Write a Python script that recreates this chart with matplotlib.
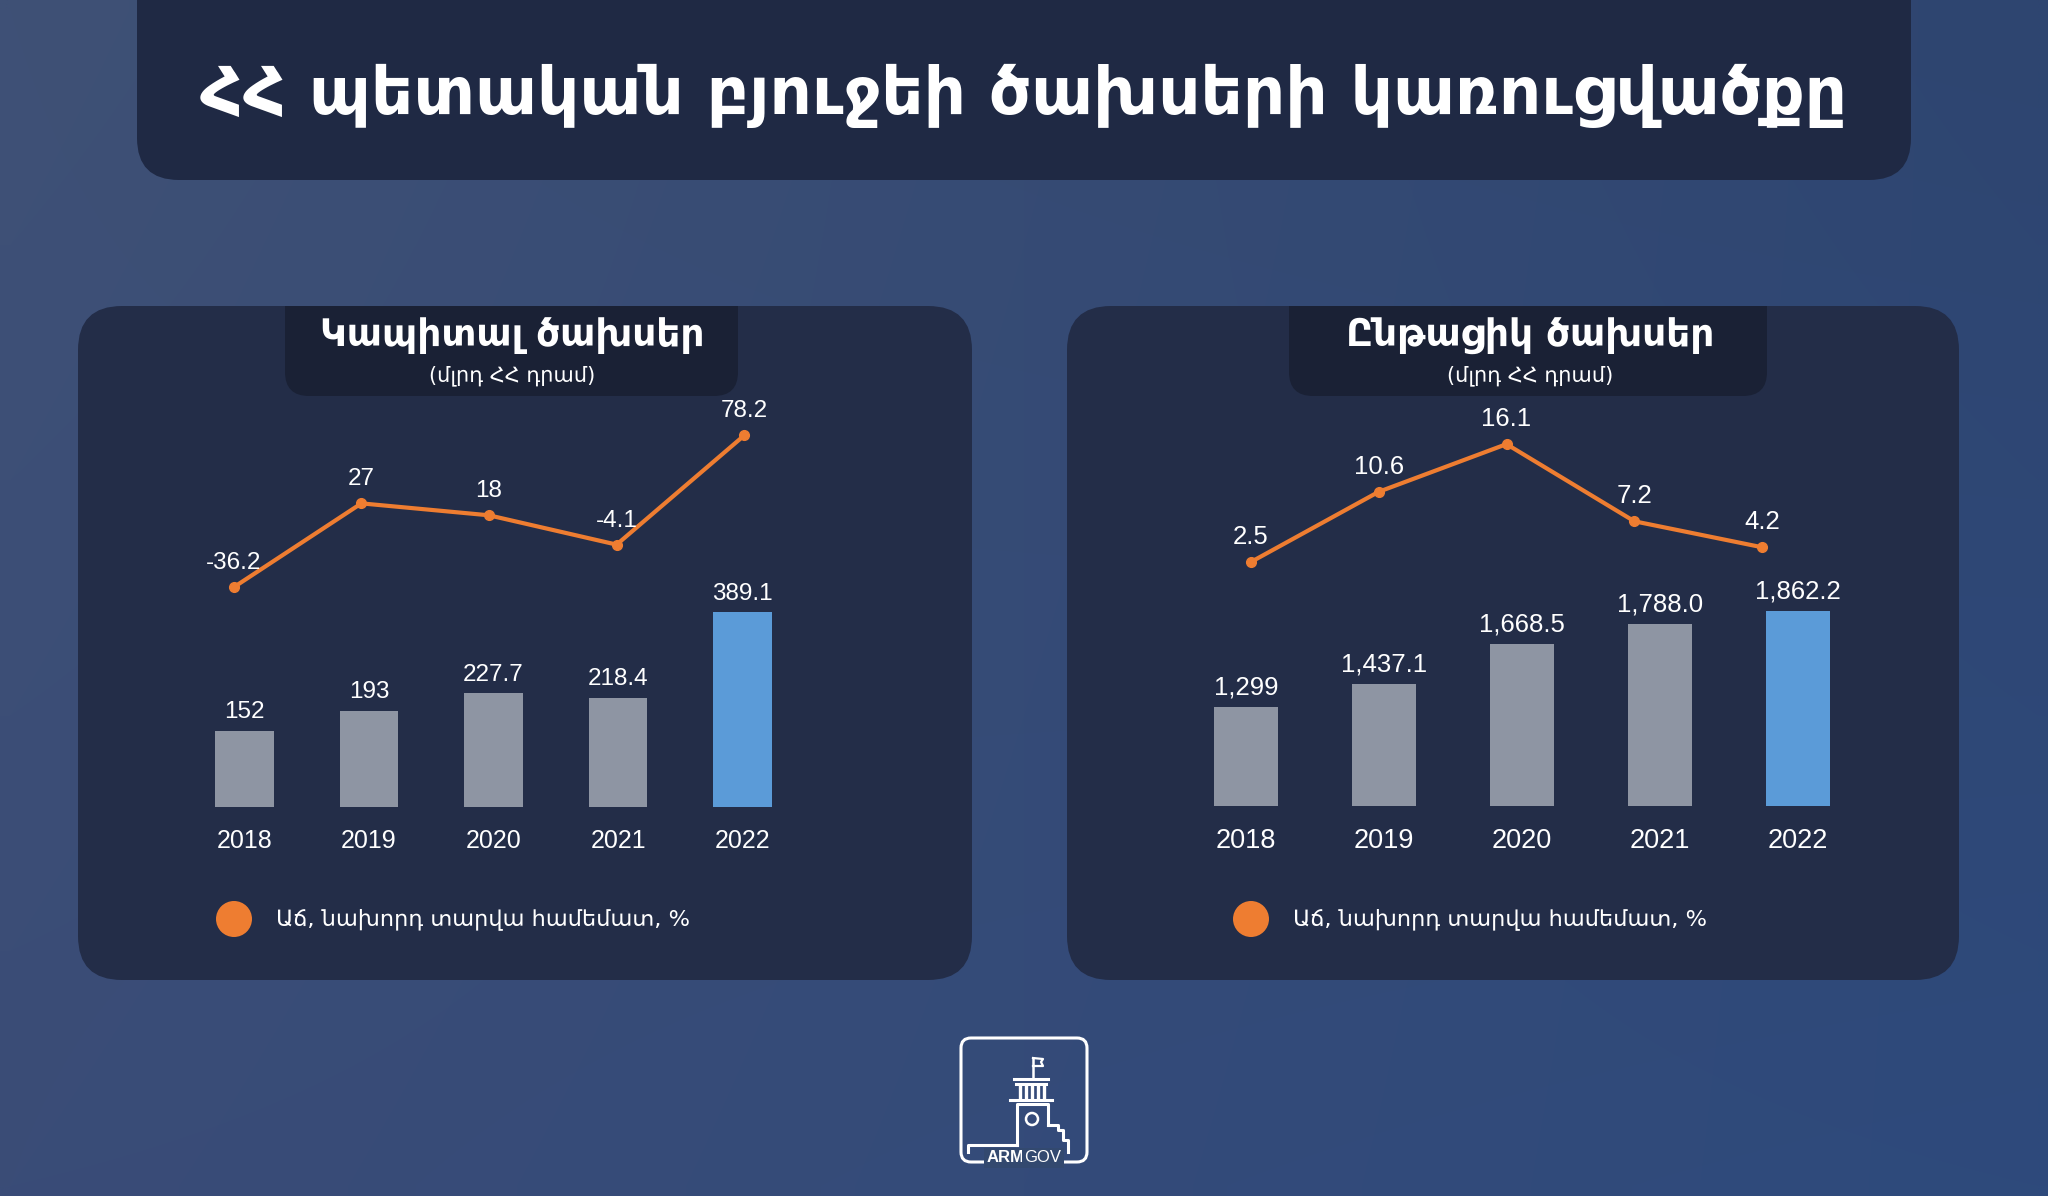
import numpy as np
import matplotlib
matplotlib.use("Agg")
import matplotlib.pyplot as plt
from matplotlib.patches import FancyBboxPatch, Rectangle, Circle
from matplotlib.colors import to_rgb

# ---------------- data ----------------
years = ["2018", "2019", "2020", "2021", "2022"]
capital_values = [152, 193, 227.7, 218.4, 389.1]
capital_labels = ["152", "193", "227.7", "218.4", "389.1"]
capital_growth = [-36.2, 27, 18, -4.1, 78.2]
current_values = [1299, 1437.1, 1668.5, 1788.0, 1862.2]
current_labels = ["1,299", "1,437.1", "1,668.5", "1,788.0", "1,862.2"]
current_growth = [2.5, 10.6, 16.1, 7.2, 4.2]

title = "ՀՀ պետական բյուջեի ծախսերի կառուցվածքը"
panel_titles = ["Կապիտալ ծախսեր", "Ընթացիկ ծախսեր"]
unit_label = "(մլրդ ՀՀ դրամ)"
legend_label = "Աճ, նախորդ տարվա համեմատ, %"

# ---------------- style ----------------
GRAY = "#8e95a3"
BLUE = "#5b9bd8"
ORANGE = "#ee7d31"
PANEL = "#232d48"
HEADER = "#1a2135"
BANNER = "#1f2944"
ARM = ["DejaVu Sans"]
NUM = ["Liberation Sans", "DejaVu Sans"]

W, H = 2048, 1196
fig = plt.figure(figsize=(W / 100, H / 100), dpi=100)
bg = fig.add_axes([0, 0, 1, 1])
bg.axis("off")

# background gradient
tl, tr, bl, br = [np.array(to_rgb(c)) for c in ("#3f5176", "#2e4570", "#3a4c77", "#2e4a7c")]
yy, xx = np.mgrid[0:1:60j, 0:1:100j]
xx = xx[..., None]
yy = yy[..., None]
img = tl * (1 - xx) * (1 - yy) + tr * xx * (1 - yy) + bl * (1 - xx) * yy + br * xx * yy
bg.imshow(img, extent=[0, W, H, 0], aspect="auto", interpolation="bilinear", zorder=0)
bg.set_xlim(0, W)
bg.set_ylim(H, 0)


def rbox(x0, y0, x1, y1, r, fc, z=1, clip_top=None, **kw):
    p = FancyBboxPatch((x0, y0), x1 - x0, y1 - y0,
                       boxstyle=f"round,pad=0,rounding_size={r}",
                       fc=fc, ec="none", zorder=z, **kw)
    bg.add_patch(p)
    if clip_top is not None:
        cr = Rectangle((0, clip_top), W, H, transform=bg.transData)
        p.set_clip_path(cr)
    return p


def fig_rect(x0, y0, x1, y1):
    return [x0 / W, 1 - y1 / H, (x1 - x0) / W, (y1 - y0) / H]


# title banner
rbox(137, -60, 1911, 180, 42, BANNER, z=1)
bg.text(1024, 96, title, ha="center", va="center", color="white",
        fontsize=47.5, fontweight="bold", family=ARM, zorder=3)

# panels
panels = [
    dict(x0=78, x1=972, hx0=285, hx1=738, cx=512),
    dict(x0=1067, x1=1959, hx0=1289, hx1=1767, cx=1530),
]
for i, p in enumerate(panels):
    rbox(p["x0"], 306, p["x1"], 980, 44, PANEL, z=1)
    rbox(p["hx0"], 270, p["hx1"], 396, 24, HEADER, z=2, clip_top=306)
    bg.text(p["cx"], 336, panel_titles[i], ha="center", va="center", color="white",
            fontsize=27, fontweight="bold", family=ARM, zorder=3)
    bg.text(p["cx"], 376, unit_label, ha="center", va="center", color="white",
            fontsize=15, family=ARM, zorder=3)

# legends
for cx in (234, 1251):
    bg.add_patch(Circle((cx, 919), 18, fc=ORANGE, ec="none", zorder=3))
    bg.text(cx + 42, 919, legend_label, ha="left", va="center", color="white",
            fontsize=16.2, family=ARM, zorder=3)


def bar_chart(rect, values, labels, ylim, fs_val, fs_year):
    ax = fig.add_axes(fig_rect(*rect))
    ax.patch.set_alpha(0)
    colors = [GRAY] * (len(values) - 1) + [BLUE]
    xs = np.arange(len(values))
    ax.bar(xs, values, width=0.47, color=colors, zorder=2)
    ax.set_xlim(-0.5, len(values) - 0.5)
    ax.set_ylim(*ylim)
    for s in ax.spines.values():
        s.set_visible(False)
    ax.set_yticks([])
    ax.set_xticks(xs)
    ax.set_xticklabels(years, color="white", fontsize=fs_year, family=NUM)
    ax.tick_params(axis="x", length=0, pad=16)
    for x, v, lab in zip(xs, values, labels):
        ax.annotate(lab, (x, v), xytext=(0, 9), textcoords="offset points",
                    ha="center", va="baseline", color="white",
                    fontsize=fs_val, family=NUM)
    return ax


def line_chart(rect, values, ylim, fs):
    ax = fig.add_axes(fig_rect(*rect))
    ax.patch.set_alpha(0)
    ax.axis("off")
    xs = np.arange(len(values))
    ax.plot(xs, values, color=ORANGE, lw=3, marker="o", ms=7, zorder=3,
            solid_capstyle="round")
    ax.set_xlim(-0.5, len(values) - 0.5)
    ax.set_ylim(*ylim)
    for x, v in zip(xs, values):
        ax.annotate(f"{v:g}", (x, v), xytext=(0, 13), textcoords="offset points",
                    ha="center", va="baseline", color="white",
                    fontsize=fs, family=NUM)
    return ax


# left panel: capital expenditures
bar_chart((182, 400, 805, 807), capital_values, capital_labels, (0, 814), 17.5, 18)
line_chart((170, 380, 808, 640), capital_growth, (-76, 120), 17.5)

# right panel: current expenditures
bar_chart((1177, 400, 1867, 806), current_values, current_labels, (720, 3098), 18.5, 19.5)
line_chart((1187, 380, 1826, 640), current_growth, (-6.5, 23.5), 18.5)

# logo
lw = 2.2
bg.add_patch(FancyBboxPatch((961, 1038), 126, 124, boxstyle="round,pad=0,rounding_size=10",
                            fc="none", ec="white", lw=lw, zorder=3))
bg.plot([1033, 1033], [1058, 1078], color="white", lw=1.8, zorder=4)
bg.plot([1033, 1043, 1041, 1043, 1033], [1058, 1059, 1062, 1066, 1066], color="white", lw=1.6, zorder=4)
bg.plot([1014, 1048], [1079, 1079], color="white", lw=lw, zorder=4)
bg.plot([1016, 1046], [1084, 1084], color="white", lw=lw, zorder=4)
for cx in (1021, 1027, 1033, 1039, 1045):
    bg.plot([cx - 1, cx - 1], [1087, 1097], color="white", lw=2.4, zorder=4)
bg.plot([1010, 1052], [1100, 1100], color="white", lw=lw, zorder=4)
bg.plot([1017, 1017, 1048, 1048], [1145, 1104, 1104, 1125], color="white", lw=lw, zorder=4)
bg.add_patch(Circle((1032, 1119), 6, fc="none", ec="white", lw=1.8, zorder=4))
bg.plot([1048, 1058, 1058, 1063, 1063, 1068, 1068], [1125, 1125, 1130, 1130, 1140, 1140, 1152],
        color="white", lw=lw, zorder=4)
bg.plot([968, 968, 1017], [1152, 1145, 1145], color="white", lw=lw, zorder=4)
bg.text(1024, 1158, "ARM", ha="right", va="center", color="white", fontsize=12,
        fontweight="bold", family=["Liberation Sans"], zorder=5,
        bbox=dict(boxstyle="square,pad=0.15", fc="#33496f", ec="none"))
bg.text(1024, 1158, "GOV", ha="left", va="center", color="white", fontsize=12,
        family=["Liberation Sans"], zorder=5,
        bbox=dict(boxstyle="square,pad=0.15", fc="#33496f", ec="none"))

fig.savefig("out.png", dpi=100, facecolor=fig.get_facecolor())
